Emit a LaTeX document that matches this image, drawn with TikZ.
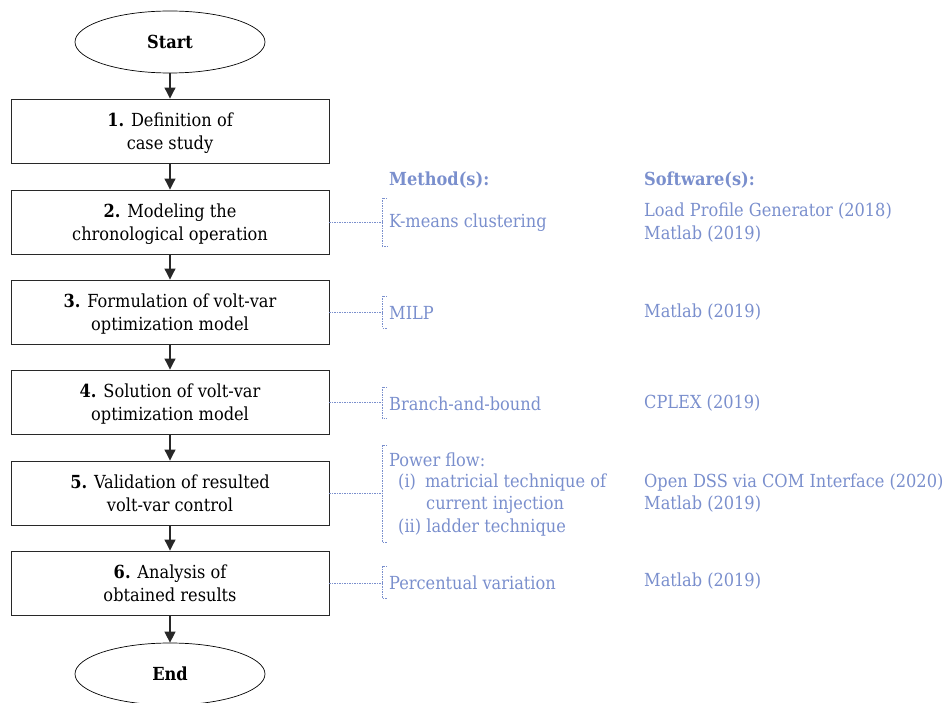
\documentclass[tikz,border=0pt]{standalone}
\usepackage{fontspec}
\setmainfont{DejaVu Serif Condensed}
\usetikzlibrary{shapes.geometric,arrows.meta}
\definecolor{mblue}{RGB}{122,143,205}
\definecolor{boxline}{RGB}{40,40,40}
\tikzset{
  stepbox/.style={draw=boxline, line width=0.9pt, minimum width=318pt, minimum height=64pt, align=center, font=\fontsize{18}{23}\selectfont, inner sep=0pt, text depth=-2pt},
  term/.style={draw=black, line width=0.7pt, ellipse, minimum width=190pt, minimum height=62pt, font=\fontsize{18}{18}\selectfont\bfseries, inner sep=0pt},
  flow/.style={-{Triangle[length=11pt,width=11pt]}, line width=1.1pt, draw=boxline},
  lab/.style={text=mblue, anchor=west, inner sep=0pt, font=\fontsize{18}{22.5}\selectfont, align=left, yshift=-1.5pt},
  brk/.style={draw=mblue, dash pattern=on 1.5pt off 1pt, line width=0.5pt},
}
\begin{document}
\begin{tikzpicture}[x=1pt,y=-1pt]
\useasboundingbox (0,0) rectangle (943,703);
\node[term] (start) at (170,42) {Start};
\node[stepbox] (s1) at (170,131) {\textbf{1.} Definition of\\case study};
\node[stepbox] (s2) at (170,222) {\textbf{2.} Modeling the\\chronological operation};
\node[stepbox] (s3) at (170,312) {\textbf{3.} Formulation of volt-var\\optimization model};
\node[stepbox] (s4) at (170,402) {\textbf{4.} Solution of volt-var\\optimization model};
\node[stepbox] (s5) at (170,493) {\textbf{5.} Validation of resulted\\volt-var control};
\node[stepbox] (s6) at (170,583) {\textbf{6.} Analysis of\\obtained results};
\node[term] (end) at (170,674) {End};
\draw[flow] (start) -- (s1);
\draw[flow] (s1) -- (s2);
\draw[flow] (s2) -- (s3);
\draw[flow] (s3) -- (s4);
\draw[flow] (s4) -- (s5);
\draw[flow] (s5) -- (s6);
\draw[flow] (s6) -- (end);
% headers
\node[lab, font=\fontsize{18}{18}\selectfont\bfseries] (mh) at (389,179) {Method(s):};
\node[lab, font=\fontsize{18}{18}\selectfont\bfseries] (sh) at (644,179) {Software(s):};
% brackets
\coordinate (b2t) at (382,198); \coordinate (b2b) at (382,246);
\coordinate (b3t) at (382,296); \coordinate (b3b) at (382,328);
\coordinate (b4t) at (382,387); \coordinate (b4b) at (382,418);
\coordinate (b5t) at (382,445); \coordinate (b5b) at (382,542);
\coordinate (b6t) at (382,566); \coordinate (b6b) at (382,598);
\foreach \s/\t/\b in {s2/b2t/b2b,s3/b3t/b3b,s4/b4t/b4b,s5/b5t/b5b,s6/b6t/b6b}{
  \draw[brk] (\s.east) -- (\s.east -| \t);
  \draw[brk] ([xshift=5pt]\t) -- (\t) -- (\b) -- ([xshift=5pt]\b);
}
% methods
\node[lab] (m2) at (389,221) {K-means clustering};
\node[lab] (m3) at (389,311) {MILP};
\node[lab] (m4) at (389,402) {Branch-and-bound};
\node[lab] (m5a) at (389,458) {Power flow:};
\node[lab] (m5b) at (398,481) {(i)\hspace{0.5em}matricial technique of};
\node[lab] (m5c) at (426,503) {current injection};
\node[lab] (m5d) at (398,526) {(ii) ladder technique};
\node[lab] (m6) at (389,581) {Percentual variation};
% software
\node[lab] (w2a) at (644,210) {Load Profile Generator (2018)};
\node[lab] (w2b) at (644,233) {Matlab (2019)};
\node[lab] (w3) at (644,311) {Matlab (2019)};
\node[lab] (w4) at (644,402) {CPLEX (2019)};
\node[lab] (w5a) at (644,481) {Open DSS via COM Interface (2020)};
\node[lab] (w5b) at (644,503) {Matlab (2019)};
\node[lab] (w6) at (644,580) {Matlab (2019)};
\end{tikzpicture}
\end{document}
